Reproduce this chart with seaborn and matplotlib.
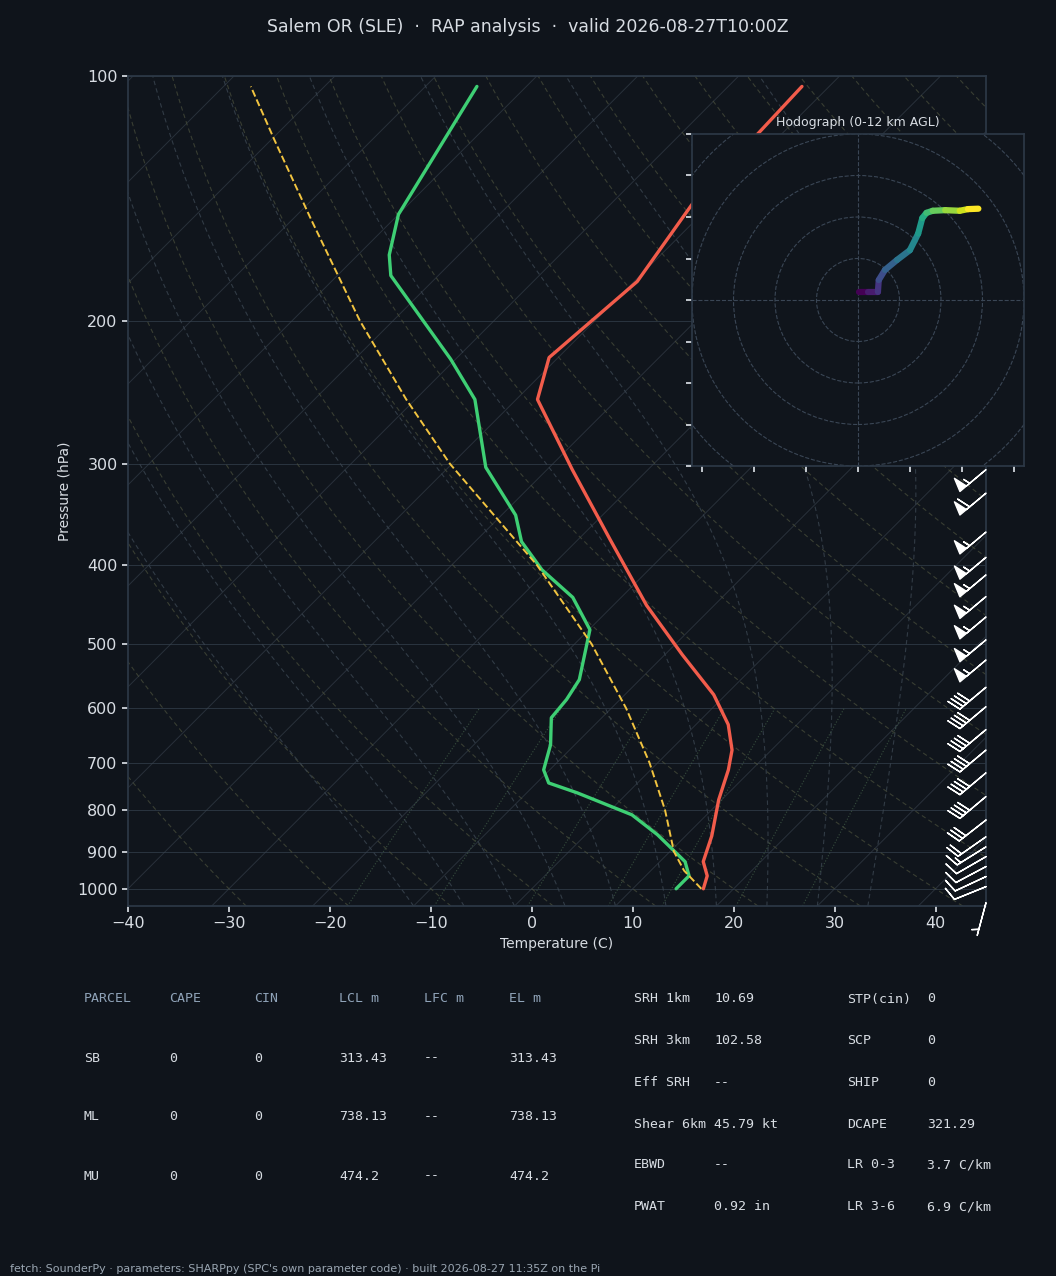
import numpy as np
import pandas as pd
import matplotlib
matplotlib.use("Agg")
import matplotlib.pyplot as plt
import matplotlib.transforms as mtransforms
from matplotlib.collections import LineCollection
import seaborn as sns

# --- sounding ---
temp_p = [1000, 964, 926, 861, 777, 714, 675, 628, 577, 515, 448, 372, 305, 250, 222, 179, 144, 103]
temp_c = [17.0, 16.1, 14.3, 12.6, 9.7, 7.7, 6.1, 3.2, -1.2, -8.3, -16.7, -26.8, -37.5, -47.9, -50.9, -49.7, -51.9, -52.7]
dewp_p = [1000, 964, 926, 858, 811, 762, 741, 714, 665, 616, 585, 553, 480, 438, 405, 374, 347, 303, 250, 223, 176, 166, 148, 103]
dewp_c = [14.3, 14.3, 12.5, 7.1, 2.6, -5.0, -8.8, -10.6, -12.4, -15.0, -15.3, -16.0, -19.9, -24.8, -30.6, -35.4, -38.6, -46.3, -54.1, -60.5, -74.7, -76.9, -80.0, -84.9]
parcel_p = [1000, 950, 900, 800, 700, 600, 500, 400, 300, 250, 200, 150, 120, 103]
parcel_c = [16.8, 13.3, 10.4, 5.4, -0.8, -8.5, -18.3, -31.5, -50.2, -60.9, -73.3, -88.2, -99.6, -107.3]

# wind barbs (pressure, speed kt, direction of travel deg from east)
barb_p = [305, 326, 364, 391, 411, 437, 463, 494, 523, 565, 597, 637, 675, 720, 770, 823, 863, 888, 913, 939, 966, 994, 1040]
barb_spd = [55, 60, 55, 55, 55, 55, 55, 55, 55, 40, 40, 40, 40, 40, 40, 30, 20, 15, 10, 10, 10, 10, 5]
barb_ang = [40, 40, 40, 40, 40, 40, 40, 40, 40, 40, 40, 40, 40, 40, 40, 38, 35, 32, 30, 28, 25, 22, 75]

# hodograph (kt)
hodo_u = [0.5, 5.0, 9.6, 10.0, 13.0, 18.8, 25.0, 29.0, 31.0, 33.0, 36.0, 42.0, 49.0, 53.0, 58.0]
hodo_v = [3.9, 3.9, 3.9, 9.6, 14.5, 19.3, 24.0, 32.0, 39.5, 42.0, 43.0, 43.3, 43.0, 43.8, 44.0]

tbl_head = ["PARCEL", "CAPE", "CIN", "LCL m", "LFC m", "EL m"]
tbl_rows = [["SB", "0", "0", "313.43", "--", "313.43"],
            ["ML", "0", "0", "738.13", "--", "738.13"],
            ["MU", "0", "0", "474.2", "--", "474.2"]]
idx_a = [("SRH 1km", "10.69"), ("SRH 3km", "102.58"), ("Eff SRH", "--"),
         ("Shear 6km", "45.79 kt"), ("EBWD", "--"), ("PWAT", "0.92 in")]
idx_b = [("STP(cin)", "0"), ("SCP", "0"), ("SHIP", "0"),
         ("DCAPE", "321.29"), ("LR 0-3", "3.7 C/km"), ("LR 3-6", "6.9 C/km")]

BG = "#0f141b"
AX_BG = "#10151c"
FG = "#d8dde3"
SPINE = "#2c3846"
K = 80.5  # skew, deg C per pressure decade


def skew(t, p):
    return np.asarray(t) + K * np.log10(1000.0 / np.asarray(p))


sns.set_theme(style="dark", rc={"figure.facecolor": BG, "axes.facecolor": AX_BG,
                                "axes.edgecolor": SPINE, "text.color": FG,
                                "axes.labelcolor": FG, "xtick.color": FG, "ytick.color": FG})
plt.rcParams["font.family"] = ["DejaVu Sans"]

fig = plt.figure(figsize=(10.56, 12.76), dpi=100)
ax = fig.add_axes([128 / 1056, 1 - 906 / 1276, 858 / 1056, 830 / 1276])

# background lines
pp = np.logspace(np.log10(1050), 2, 120)
for t0 in range(-160, 60, 10):
    ax.plot(skew(np.full_like(pp, t0), pp), pp, color="#39434f", lw=0.7, alpha=0.6)
for th in range(-30, 220, 10):
    tk = (th + 273.15) * (pp / 1000.0) ** 0.2857 - 273.15
    ax.plot(skew(tk, pp), pp, color="#4a4f3c", lw=0.8, ls=(0, (4, 3)), alpha=0.7)


def es(tc):
    return 6.112 * np.exp(17.67 * tc / (tc + 243.5))


for t0 in range(-10, 40, 5):
    pr = np.logspace(np.log10(1050), 2, 400)
    tl = []
    t = t0 + 273.15
    for i, pcur in enumerate(pr):
        tl.append(t - 273.15)
        if i + 1 < len(pr):
            rs = 0.622 * es(t - 273.15) / (pcur - es(t - 273.15))
            dtdp = (287.0 * t + 2.5e6 * rs) / (1004.0 + 2.5e6 ** 2 * rs * 0.622 / (287.0 * t * t)) / pcur
            t += dtdp * (pr[i + 1] - pcur)
    ax.plot(skew(tl, pr), pr, color="#3a4550", lw=0.8, ls=(0, (4, 3)), alpha=0.8)

pm = np.logspace(np.log10(1050), np.log10(600), 40)
for w in [1, 2, 4, 7, 10, 16, 24]:
    e = pm * w / 1000.0 / (0.622 + w / 1000.0)
    td = 243.5 * np.log(e / 6.112) / (17.67 - np.log(e / 6.112))
    ax.plot(skew(td, pm), pm, color="#3f5a45", lw=0.8, ls=":", alpha=0.8)

for p in [100, 200, 300, 400, 500, 600, 700, 800, 900, 1000]:
    ax.axhline(p, color="#2a3440", lw=0.7, zorder=1)

df_t = pd.DataFrame({"x": skew(temp_c, temp_p), "p": temp_p})
df_d = pd.DataFrame({"x": skew(dewp_c, dewp_p), "p": dewp_p})
df_par = pd.DataFrame({"x": skew(parcel_c, parcel_p), "p": parcel_p})
sns.lineplot(data=df_t, x="x", y="p", sort=False, estimator=None, color="#f25c4b", lw=2.4, ax=ax, zorder=5)
sns.lineplot(data=df_d, x="x", y="p", sort=False, estimator=None, color="#3ecf74", lw=2.4, ax=ax, zorder=5)
sns.lineplot(data=df_par, x="x", y="p", sort=False, estimator=None, color="#f2c440", lw=1.4, ls="--", ax=ax, zorder=5)
ax.set_yscale("log")
ax.set_ylim(1050, 100)
ax.set_xlim(-40, 45)

ticks = [100, 200, 300, 400, 500, 600, 700, 800, 900, 1000]
ax.yaxis.set_major_locator(matplotlib.ticker.FixedLocator(ticks))
ax.yaxis.set_minor_locator(matplotlib.ticker.NullLocator())
ax.set_yticklabels([str(t) for t in ticks])
ax.set_xticks(range(-40, 41, 10))
ax.set_xticklabels([str(t).replace("-", "\u2212") for t in range(-40, 41, 10)])
ax.tick_params(labelsize=11.5, length=4, color=FG, left=True, bottom=True)
ax.set_ylabel("Pressure (hPa)", fontsize=10)
ax.set_xlabel("Temperature (C)", fontsize=10)
for s in ax.spines.values():
    s.set_color(SPINE)

spd = np.asarray(barb_spd, float)
ang = np.radians(barb_ang)
bu = spd * np.cos(ang)
bv = spd * np.sin(ang)
trans = mtransforms.blended_transform_factory(ax.transAxes, ax.transData)
ax.barbs(np.full(len(barb_p), 1.0), barb_p, bu, bv, transform=trans,
         color="white", length=7, lw=1.0, zorder=6, clip_on=False)

# hodograph
hx = fig.add_axes([692 / 1056, 1 - 466 / 1276, 332 / 1056, 332 / 1276])
hx.set_facecolor(AX_BG)
hx.set_xlim(-80, 80)
hx.set_ylim(-80, 80)
hx.set_xticks(np.arange(-75, 80, 25))
hx.set_yticks(np.arange(-80, 81, 20))
hx.set_xticklabels([])
hx.set_yticklabels([])
hx.tick_params(length=4, color=FG, left=True, bottom=True)
for r in range(20, 120, 20):
    hx.add_patch(plt.Circle((0, 0), r, fill=False, color="#3a4655", lw=0.8, ls="--"))
hx.axhline(0, color="#3a4655", lw=0.8, ls="--")
hx.axvline(0, color="#3a4655", lw=0.8, ls="--")
hx.grid(False)
for s in hx.spines.values():
    s.set_color(SPINE)
hu = np.asarray(hodo_u)
hv = np.asarray(hodo_v)
segs = np.stack([np.column_stack([hu[:-1], hv[:-1]]), np.column_stack([hu[1:], hv[1:]])], axis=1)
lc = LineCollection(segs, cmap="viridis", lw=4.5, capstyle="round")
lc.set_array(np.arange(len(segs)))
hx.add_collection(lc)
hx.set_title("Hodograph (0-12 km AGL)", fontsize=9, color=FG, pad=6)

fig.text(0.5, 1 - 27 / 1276, "Salem OR (SLE)  \u00b7  RAP analysis  \u00b7  valid 2026-08-27T10:00Z",
         ha="center", va="center", fontsize=12.5, color=FG)

mono = "DejaVu Sans Mono"
cols = [84, 169, 254, 339, 424, 509]
for x, h in zip(cols, tbl_head):
    fig.text(x / 1056, 1 - 999 / 1276, h, family=mono, fontsize=9.5, color="#8fa3b8", va="center")
for r, row in enumerate(tbl_rows):
    y = [1058, 1117, 1176][r]
    for x, v in zip(cols, row):
        fig.text(x / 1056, 1 - y / 1276, v, family=mono, fontsize=9.5, color=FG, va="center")
rows_y = [999, 1041, 1083, 1124, 1165, 1207]
for y, (a, b) in zip(rows_y, idx_a):
    fig.text(634 / 1056, 1 - y / 1276, a, family=mono, fontsize=9.5, color=FG, va="center")
    fig.text(714 / 1056, 1 - y / 1276, b, family=mono, fontsize=9.5, color=FG, va="center")
for y, (a, b) in zip(rows_y, idx_b):
    fig.text(847 / 1056, 1 - y / 1276, a, family=mono, fontsize=9.5, color=FG, va="center")
    fig.text(927 / 1056, 1 - y / 1276, b, family=mono, fontsize=9.5, color=FG, va="center")

fig.text(10 / 1056, 1 - 1269 / 1276,
         "fetch: SounderPy \u00b7 parameters: SHARPpy (SPC's own parameter code) \u00b7 built 2026-08-27 11:35Z on the Pi",
         fontsize=8, color="#9aa6b2", va="center")

fig.savefig("out.png", dpi=100, facecolor=BG)
